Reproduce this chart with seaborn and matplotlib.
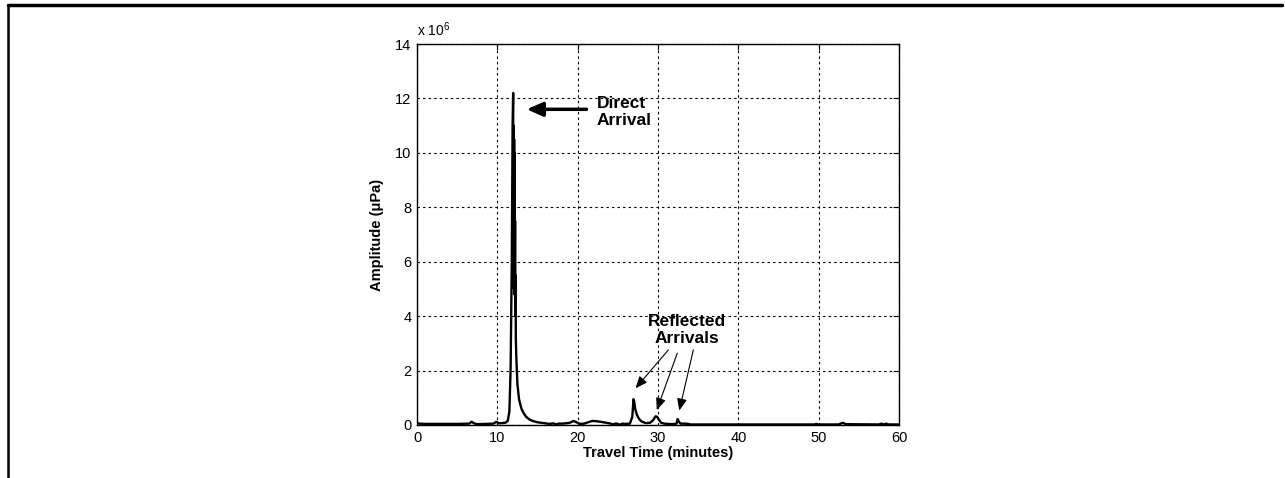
import matplotlib
matplotlib.use("Agg")
import matplotlib.pyplot as plt
from matplotlib.lines import Line2D
import seaborn as sns
import pandas as pd

# Travel time (minutes) and amplitude (x 10^6 uPa)
travel_time = [0, 0.3, 1, 3, 5, 6.5, 6.8, 7.1, 7.5, 8.5, 9.5, 9.9, 10.2, 10.5, 11.0, 11.3,
               11.5, 11.65, 11.8, 11.9, 11.97, 12.0, 12.03, 12.06, 12.09, 12.12, 12.15, 12.18,
               12.21, 12.24, 12.27, 12.3,
               12.35, 12.4, 12.5, 12.7, 13.0, 13.3, 13.6, 14.0, 14.5, 15.0, 15.5, 16, 16.5, 17,
               17.3, 17.6, 18, 18.5, 19, 19.5, 20, 20.3, 20.8, 21.3, 21.8, 22.3, 22.8, 23.2,
               23.6, 24, 24.4, 24.8, 25.2, 25.6, 26, 26.5, 26.8, 26.95, 27.05, 27.15, 27.4,
               27.7, 28.0, 28.5, 29.0, 29.4, 29.7, 29.9, 30.1, 30.4, 30.8, 31.3, 31.8, 32.3,
               32.45, 32.6, 32.8, 33.3, 33.8, 34.0, 36, 40, 45, 49.5, 49.7, 49.9, 52.5, 53.0,
               53.4, 57.5, 57.8, 58.1, 58.4, 58.7, 60]
amplitude = [0.08, 0.05, 0.04, 0.04, 0.04, 0.05, 0.12, 0.06, 0.03, 0.04, 0.05, 0.12, 0.06,
             0.07, 0.08, 0.15, 0.5, 2.0, 6.0, 11.0, 12.2, 5.5, 11.0, 5.0, 10.5, 4.8, 10.0,
             5.0, 7.5, 4.0, 5.5, 3.2,
             2.6, 2.2, 1.5, 0.95, 0.6, 0.42, 0.3, 0.2, 0.14, 0.1, 0.08, 0.06, 0.04, 0.06,
             0.02, 0.05, 0.05, 0.06, 0.08, 0.15, 0.08, 0.04, 0.05, 0.1, 0.15, 0.14, 0.12, 0.1,
             0.08, 0.06, 0.02, 0.06, 0.01, 0.05, 0.04, 0.05, 0.3, 0.95, 0.85, 0.6, 0.35,
             0.2, 0.12, 0.07, 0.08, 0.18, 0.32, 0.3, 0.2, 0.08, 0.05, 0.04, 0.03, 0.05,
             0.22, 0.12, 0.05, 0.05, 0.04, 0.02, 0.02, 0.02, 0.02, 0.02, 0.04, 0.02, 0.02, 0.08,
             0.03, 0.02, 0.05, 0.02, 0.05, 0.02, 0.02]

x_ticks = [0, 10, 20, 30, 40, 50, 60]
y_ticks = [0, 2, 4, 6, 8, 10, 12, 14]

direct_label = "Direct\nArrival"
reflected_label = "Reflected\nArrivals"
reflected_tips = [(27.2, 1.35), (29.85, 0.55), (32.65, 0.53)]
reflected_tails = [(31.3, 2.76), (32.4, 2.64), (34.4, 2.76)]

sns.set_theme(style="white")
plt.rcParams['font.family'] = ['Liberation Sans', 'DejaVu Sans']
plt.rcParams['mathtext.fontset'] = 'custom'
plt.rcParams['mathtext.rm'] = 'Liberation Sans'
plt.rcParams['text.color'] = 'black'
plt.rcParams['axes.labelcolor'] = 'black'

fig = plt.figure(figsize=(12.85, 4.78), dpi=100)
ax = fig.add_axes([417 / 1285, 1 - 425 / 478, (899 - 417) / 1285, (425 - 44) / 478])

df = pd.DataFrame({"t": travel_time, "a": amplitude})
sns.lineplot(data=df, x="t", y="a", ax=ax, color="black", linewidth=1.7, sort=False,
             estimator=None)

ax.set_xlim(0, 60)
ax.set_ylim(0, 14)
ax.set_xticks(x_ticks)
ax.set_yticks(y_ticks)
ax.grid(True, color="black", linestyle=(0, (2.2, 2.8)), linewidth=0.8)
for s in ax.spines.values():
    s.set_color("black")
    s.set_linewidth(1.0)
ax.tick_params(direction="in", length=4, width=0.8, top=True, right=True,
               labelsize=10.5, colors="black", pad=4)
ax.set_xlabel("Travel Time (minutes)", fontsize=10.5, fontweight="bold", labelpad=1)
ax.set_ylabel("Amplitude (\u03bcPa)", fontsize=10.5, fontweight="bold", labelpad=8)
ax.text(0.0, 1.012, "x 10$^{6}$", transform=ax.transAxes, fontsize=10,
        ha="left", va="bottom")

# annotations
ax.annotate("", xy=(13.65, 11.6), xytext=(21.1, 11.6),
            arrowprops=dict(arrowstyle="-|>,head_length=0.8,head_width=0.35",
                            color="black", lw=2.5, shrinkA=0, shrinkB=0))
ax.text(22.4, 11.5, direct_label, fontsize=12.5, fontweight="bold", ha="left",
        va="center", linespacing=1.2)
ax.text(33.6, 3.5, reflected_label, fontsize=12.5, fontweight="bold", ha="center",
        va="center", linespacing=1.2)
for tip, tail in zip(reflected_tips, reflected_tails):
    ax.annotate("", xy=tip, xytext=tail,
                arrowprops=dict(arrowstyle="-|>,head_length=0.6,head_width=0.25",
                                color="black", lw=0.8, shrinkA=0, shrinkB=0))

# page frame lines
fig.add_artist(Line2D([8 / 1285, 1282 / 1285], [1 - 5 / 478, 1 - 5 / 478],
                      transform=fig.transFigure, color="black", linewidth=2.5))
fig.add_artist(Line2D([8 / 1285, 8 / 1285], [1 - 5 / 478, 0],
                      transform=fig.transFigure, color="black", linewidth=1.8))

fig.savefig("out.png", dpi=100)
